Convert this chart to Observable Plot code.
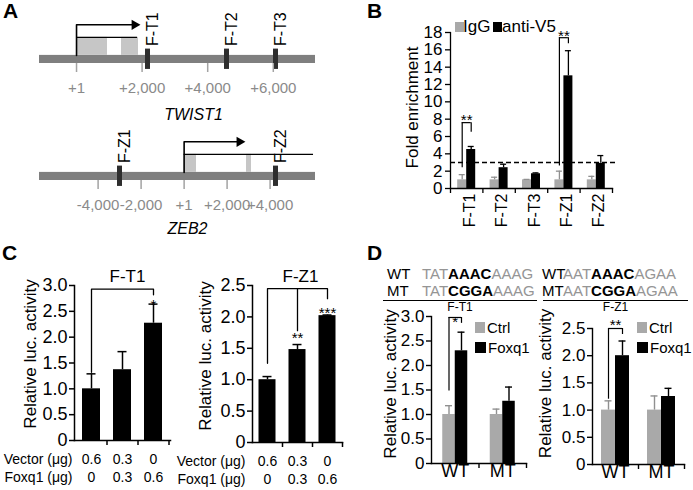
<!DOCTYPE html>
<html>
<head>
<meta charset="utf-8">
<script src="https://cdn.jsdelivr.net/npm/d3@7"></script>
<script src="https://cdn.jsdelivr.net/npm/@observablehq/plot@0.6"></script>
<style>
  html, body { margin: 0; padding: 0; background: #fff; }
  #fig { position: relative; width: 693px; height: 490px; overflow: hidden; background: #fff;
         font-family: "Liberation Sans", Arial, Helvetica, sans-serif; color: #000; }
  #fig .pw { position: absolute; }
  #fig .pw svg { max-width: none; display: block; }
  .t { position: absolute; line-height: 1; white-space: nowrap; }
  .sq { position: absolute; }
</style>
</head>
<body>
<div id="fig"></div>
<script>
// ================= DATA =================
// Panel A: TWIST1 locus (bp relative to TSS)
const twistRegion = [-1128, 7287];
const twistTicks = [1, 2000, 4000, 6000];
const twistTickLabels = ["+1", "+2,000", "+4,000", "+6,000"];
const twistTSS = 1;
const twistArrowHead = 1770;
const twistTranscriptEnd = 1860;
const twistExonStart = [1, 1372];
const twistExonEnd = [945, 1890];
const twistProbes = ["F-T1", "F-T2", "F-T3"];
const twistProbePos = [2165, 4573, 6067];

// Panel A: ZEB2 locus
const zebRegion = [-6726, 6112];
const zebTicks = [-4000, -2000, 1, 2000, 4000];
const zebTickLabels = ["-4,000", "-2,000", "+1", "+2,000", "+4,000"];
const zebTSS = 1;
const zebArrowHead = 2577;
const zebTranscriptEnd = 6020;
const zebExonStart = [1, 2902];
const zebExonEnd = [577, 3135];
const zebProbes = ["F-Z1", "F-Z2"];
const zebProbePos = [-3005, 4251];

// Panel B: ChIP fold enrichment
const bGroups = ["F-T1", "F-T2", "F-T3", "F-Z1", "F-Z2"];
const bIgG = [1, 1, 1, 1, 1];
const bIgGErr = [1.6, 1.3, 1.05, 2.0, 1.4];
const bV5 = [4.5, 2.4, 1.7, 13.0, 2.9];
const bV5Err = [4.85, 2.8, 1.8, 15.9, 3.8];
const bYTicks = [0, 2, 4, 6, 8, 10, 12, 14, 16, 18];
const bThreshold = 3;
const bSeries = ["IgG", "anti-V5"];
const bSig = [
  {g: "F-T1", left: 2.4, right: 6.5, top: 7.6, star: 7.9, s: "**"},
  {g: "F-Z1", left: 2.6, right: 16.7, top: 17.4, star: 17.6, s: "**"}
];

// Panel C: luciferase dose response
const cVector = ["0.6", "0.3", "0"];
const cFoxq1 = ["0", "0.3", "0.6"];
const cRowLabels = ["Vector (μg)", "Foxq1 (μg)"];
const cT1 = [1.0, 1.37, 2.27];
const cT1Err = [1.29, 1.72, 2.64];
const cZ1 = [1.0, 1.48, 2.02];
const cZ1Err = [1.05, 1.56, 2.03];
const cT1YTicks = [0, 0.5, 1, 1.5, 2, 2.5, 3];
const cZ1YTicks = [0, 0.5, 1, 1.5, 2, 2.5];
const cT1Brackets = [[[0, 1.32], [0, 2.93], [2, 2.93], [2, 2.82]]];
const cT1Stars = [{i: 2, y: 2.62, s: "*"}];
const cZ1Brackets = [[[0, 1.26], [0, 2.45], [2, 2.45], [2, 2.29]], [[1, 2.45], [1, 1.78]]];
const cZ1Stars = [{i: 1, y: 1.66, s: "**"}, {i: 2, y: 2.06, s: "***"}];

// Panel D: WT vs mutant site
const dGroups = ["WT", "MT"];
const dSeries = ["Ctrl", "Foxq1"];
const dT1Ctrl = [1.0, 1.0];
const dT1CtrlErr = [1.18, 1.11];
const dT1Fox = [2.3, 1.27];
const dT1FoxErr = [2.68, 1.56];
const dZ1Ctrl = [1.0, 1.0];
const dZ1CtrlErr = [1.17, 1.26];
const dZ1Fox = [2.0, 1.25];
const dZ1FoxErr = [2.27, 1.40];
const dT1YTicks = [0, 0.5, 1, 1.5, 2, 2.5, 3];
const dZ1YTicks = [0, 0.5, 1, 1.5, 2, 2.5];
const dT1Sig = [{g: "WT", left: 1.48, right: 2.86, top: 2.98, star: 2.88, s: "*"}];
const dZ1Sig = [{g: "WT", left: 1.2, right: 2.39, top: 2.5, star: 2.57, s: "**"}];
const seqT1 = {WT: ["TAT", "AAAC", "AAAG"], MT: ["TAT", "CGGA", "AAAG"]};
const seqZ1 = {WT: ["AAT", "AAAC", "AGAA"], MT: ["AAT", "CGGA", "AGAA"]};

const yLabel = "Relative luc. activity";

// ================= STYLE =================
const FONT = '"Liberation Sans", Arial, Helvetica, sans-serif';
const GRAY_BAR = "#a9a9a9";
const GRAY_ERR = "#909090";
const SEQ_GRAY = "#959595";
const fig = document.getElementById("fig");

function baseStyle(size) {
  return {fontFamily: FONT, fontSize: size + "px", background: "transparent", overflow: "visible", color: "#000"};
}
function place(node, left, top) {
  const w = document.createElement("div");
  w.className = "pw";
  w.style.left = left + "px";
  w.style.top = top + "px";
  w.appendChild(node);
  fig.appendChild(w);
}
function addText(html, left, top, size, extra = "") {
  const d = document.createElement("div");
  d.className = "t";
  d.style.cssText = `left:${left}px;top:${top}px;font-size:${size}px;${extra}`;
  d.innerHTML = html;
  fig.appendChild(d);
  return d;
}
function addBox(left, top, w, h, css) {
  const d = document.createElement("div");
  d.className = "sq";
  d.style.cssText = `left:${left}px;top:${top}px;width:${w}px;height:${h}px;${css}`;
  fig.appendChild(d);
}
const fmtTick = d => d === 0 ? "0" : d.toFixed(1);
const CENTER = {textAnchor: "middle", lineAnchor: "middle"};

// ================= PANEL A =================
const UNIT = 18, CHR_H = 0.45, EXON_H = 1, ARROW_Y = 2.15, PROBE_LO = -0.33, PROBE_HI = 0.8;
function geneDiagram(o) {
  const exons = o.exonStart.map((s, i) => ({s, e: o.exonEnd[i]}));
  const probes = o.probes.map((p, i) => ({p, x: o.probePos[i]}));
  const H = o.height, mb = o.marginBottom, mt = H - mb - 3 * UNIT;
  return Plot.plot({
    width: 340, height: H, marginLeft: 39, marginRight: 25, marginTop: mt, marginBottom: mb,
    style: baseStyle(15),
    x: {domain: o.region, label: null},
    y: {domain: [0, 3], label: null, axis: null},
    marks: [
      Plot.rect([o.region], {x1: d => d[0], x2: d => d[1], y1: 0, y2: CHR_H, fill: "#7f7f7f"}),
      Plot.rect(exons, {x1: "s", x2: "e", y1: CHR_H, y2: CHR_H + EXON_H, fill: "#c6c6c6"}),
      Plot.ruleY([CHR_H + EXON_H], {x1: o.tss, x2: o.transcriptEnd, strokeWidth: 1.3}),
      Plot.line([[o.tss, CHR_H], [o.tss, ARROW_Y], [o.arrowHead, ARROW_Y]], {x: d => d[0], y: d => d[1], strokeWidth: 1.6}),
      Plot.dot([o.arrowHead], {x: d => d, y: ARROW_Y, symbol: "triangle", rotate: 90, r: 3.8, fill: "black"}),
      Plot.ruleX(probes, {x: "x", y1: PROBE_LO, y2: PROBE_HI, strokeWidth: 5, stroke: "#2e2e2e"}),
      Plot.text(probes, {x: "x", y: PROBE_HI, text: "p", rotate: -90, textAnchor: "start", lineAnchor: "middle", dx: 5, dy: -3, fontSize: 16}),
      Plot.axisX({ticks: o.ticks, tickFormat: d => o.tickLabels[o.ticks.indexOf(d)], tickSize: 9, tickPadding: 10,
                  stroke: "#a3a3a3", strokeWidth: 1.5, fill: "#8a8a8a", fontSize: 15, label: null}),
      Plot.text([o.name], {frameAnchor: "bottom", ...CENTER, dx: o.nameDx, dy: o.nameDy, fontStyle: "italic", fontSize: 16})
    ]
  });
}
place(geneDiagram({
  region: twistRegion, ticks: twistTicks, tickLabels: twistTickLabels, tss: twistTSS, arrowHead: twistArrowHead,
  transcriptEnd: twistTranscriptEnd, exonStart: twistExonStart, exonEnd: twistExonEnd,
  probes: twistProbes, probePos: twistProbePos, name: "TWIST1", height: 125, marginBottom: 62, nameDx: 16, nameDy: 51
}), 0, 0);
place(geneDiagram({
  region: zebRegion, ticks: zebTicks, tickLabels: zebTickLabels, tss: zebTSS, arrowHead: zebArrowHead,
  transcriptEnd: zebTranscriptEnd, exonStart: zebExonStart, exonEnd: zebExonEnd,
  probes: zebProbes, probePos: zebProbePos, name: "ZEB2", height: 115, marginBottom: 60, nameDx: 10, nameDy: 48
}), 0, 125);

// ================= PANEL B =================
(function () {
  const W = 300, ml = 110, mr = 28;
  const step = (W - ml - mr) / bGroups.length;
  const bw = 9;
  const data = bGroups.map((g, i) => ({g, igg: bIgG[i], iggErr: bIgGErr[i], v5: bV5[i], v5Err: bV5Err[i]}));
  const plot = Plot.plot({
    width: W, height: 240, marginLeft: ml, marginRight: mr, marginTop: 32, marginBottom: 52,
    style: baseStyle(17),
    x: {domain: bGroups, padding: 0, round: false, label: null},
    y: {domain: [0, 18], label: null},
    marks: [
      Plot.barY(data, {x: "g", y: "igg", fill: GRAY_BAR, insetLeft: step / 2 - bw, insetRight: step / 2}),
      Plot.barY(data, {x: "g", y: "v5", fill: "black", insetLeft: step / 2, insetRight: step / 2 - bw}),
      Plot.ruleX(data, {x: "g", y1: "igg", y2: "iggErr", dx: -bw / 2, stroke: GRAY_ERR, strokeWidth: 1.3}),
      Plot.tickY(data, {x: "g", y: "iggErr", insetLeft: step / 2 - bw / 2 - 3, insetRight: step / 2 + bw / 2 - 3, stroke: GRAY_ERR, strokeWidth: 1.3}),
      Plot.ruleX(data, {x: "g", y1: "v5", y2: "v5Err", dx: bw / 2, strokeWidth: 1.3}),
      Plot.tickY(data, {x: "g", y: "v5Err", insetLeft: step / 2 + bw / 2 - 3, insetRight: step / 2 - bw / 2 - 3, strokeWidth: 1.3}),
      Plot.ruleY([bThreshold], {strokeDasharray: "5,3", strokeWidth: 1.5, insetRight: -6}),
      Plot.ruleX(bSig, {x: "g", y1: "left", y2: "top", dx: -bw / 2, strokeWidth: 1.2}),
      Plot.ruleX(bSig, {x: "g", y1: "right", y2: "top", dx: bw / 2, strokeWidth: 1.2}),
      Plot.ruleY(bSig, {x1: "g", x2: "g", y: "top", insetLeft: step / 2 - bw / 2, insetRight: step / 2 - bw / 2, strokeWidth: 1.2}),
      Plot.text(bSig, {x: "g", y: "star", text: "s", fontSize: 15}),
      Plot.frame({anchor: "left", strokeWidth: 1.3}),
      Plot.frame({anchor: "bottom", strokeWidth: 1.3}),
      Plot.ruleX(bGroups, {x: d => d, y1: 0, y2: 0, insetBottom: -5, dx: -step / 2, strokeWidth: 1.3}),
      Plot.ruleX(bGroups.slice(-1), {x: d => d, y1: 0, y2: 0, insetBottom: -5, dx: step / 2, strokeWidth: 1.3}),
      Plot.axisY({ticks: bYTicks, tickSize: 5, tickPadding: 3, fontSize: 17, strokeWidth: 1.3, label: null}),
      Plot.axisX({tickSize: 0, tickPadding: 5, tickRotate: -90, dx: 3, fontSize: 16, label: null}),
      Plot.text(["Fold enrichment"], {frameAnchor: "left", ...CENTER, rotate: -90, dx: -38, dy: -3, fontSize: 17})
    ]
  });
  place(plot, 340, 0);
})();

// ================= PANEL C =================
const cConds = cVector.map((v, i) => v + "\n" + cFoxq1[i]);
function cPlot(o) {
  const n = cConds.length;
  const R = o.W - o.ml - o.mr;
  const pi = 1 - o.barW / o.step, po = (R / o.step - n + pi) / 2;
  const data = o.vals.map((v, i) => ({c: cConds[i], v, e: o.errs[i]}));
  return Plot.plot({
    width: o.W, height: 250, marginLeft: o.ml, marginRight: o.mr, marginTop: o.mt, marginBottom: o.mb,
    style: baseStyle(17),
    x: {domain: cConds, paddingInner: pi, paddingOuter: po, round: false, label: null},
    y: {domain: [0, o.yMax], label: null},
    marks: [
      Plot.barY(data, {x: "c", y: "v", fill: "black"}),
      Plot.ruleX(data, {x: "c", y1: "v", y2: "e", strokeWidth: 1.5}),
      Plot.tickY(data, {x: "c", y: "e", insetLeft: o.barW / 2 - 4.5, insetRight: o.barW / 2 - 4.5, strokeWidth: 1.5}),
      ...o.brackets.map(b => Plot.line(b, {x: d => cConds[d[0]], y: d => d[1], strokeWidth: 1.3})),
      Plot.text(o.stars, {x: d => cConds[d.i], y: "y", text: "s", fontSize: 15}),
      Plot.frame({anchor: "left", strokeWidth: 1.5}),
      Plot.frame({anchor: "bottom", strokeWidth: 1.5}),
      Plot.ruleX(cConds, {x: d => d, y1: 0, y2: 0, insetBottom: -5, dx: o.step / 2, strokeWidth: 1.5}),
      Plot.axisY({ticks: o.yTicks, tickFormat: fmtTick, tickSize: 5, tickPadding: 2, fontSize: 18, strokeWidth: 1.5, label: null}),
      Plot.axisX({tickSize: 0, tickPadding: 11, fontSize: 14, lineHeight: 1.29, label: null}),
      Plot.text([cRowLabels.join("\n")], {frameAnchor: "bottom-left", textAnchor: "end", lineAnchor: "top", dx: o.rowDx, dy: 11, fontSize: 14, lineHeight: 1.29}),
      Plot.text([o.title], {frameAnchor: "top", ...CENTER, dx: o.titleDx, dy: -9, fontSize: 17}),
      Plot.text([yLabel], {frameAnchor: "left", ...CENTER, rotate: -90, dx: o.ylabDx, dy: o.ylabDy, fontSize: 17})
    ]
  });
}
place(cPlot({vals: cT1, errs: cT1Err, yMax: 3, yTicks: cT1YTicks, W: 175, ml: 74, mr: 5, mt: 45, mb: 50,
  barW: 18, step: 31, brackets: cT1Brackets, stars: cT1Stars, title: "F-T1", titleDx: 5, rowDx: -2, ylabDx: -44, ylabDy: -9}), 0, 240);
place(cPlot({vals: cZ1, errs: cZ1Err, yMax: 2.5, yTicks: cZ1YTicks, W: 170, ml: 77, mr: 3, mt: 45, mb: 48,
  barW: 17, step: 30, brackets: cZ1Brackets, stars: cZ1Stars, title: "F-Z1", titleDx: 3, rowDx: -7, ylabDx: -47, ylabDy: -8}), 175, 240);

// ================= PANEL D =================
function dPlot(o) {
  const step = (o.W - o.ml - o.mr) / dGroups.length;
  const h = o.barW;
  const data = dGroups.map((g, i) => ({g, c: o.ctrl[i], ce: o.ctrlErr[i], f: o.fox[i], fe: o.foxErr[i]}));
  return Plot.plot({
    width: o.W, height: 250, marginLeft: o.ml, marginRight: o.mr, marginTop: o.mt, marginBottom: o.mb,
    style: baseStyle(17),
    x: {domain: dGroups, padding: 0, round: false, label: null},
    y: {domain: [0, o.yMax], label: null},
    marks: [
      Plot.barY(data, {x: "g", y: "c", fill: GRAY_BAR, insetLeft: step / 2 - h, insetRight: step / 2}),
      Plot.barY(data, {x: "g", y: "f", fill: "black", insetLeft: step / 2, insetRight: step / 2 - h}),
      Plot.ruleX(data, {x: "g", y1: "c", y2: "ce", dx: -h / 2, stroke: GRAY_ERR, strokeWidth: 1.4}),
      Plot.tickY(data, {x: "g", y: "ce", insetLeft: step / 2 - h / 2 - 3.5, insetRight: step / 2 + h / 2 - 3.5, stroke: GRAY_ERR, strokeWidth: 1.4}),
      Plot.ruleX(data, {x: "g", y1: "f", y2: "fe", dx: h / 2, strokeWidth: 1.4}),
      Plot.tickY(data, {x: "g", y: "fe", insetLeft: step / 2 + h / 2 - 3.5, insetRight: step / 2 - h / 2 - 3.5, strokeWidth: 1.4}),
      Plot.ruleX(o.sig, {x: "g", y1: "left", y2: "top", dx: -h / 2, strokeWidth: 1.2}),
      Plot.ruleX(o.sig, {x: "g", y1: "right", y2: "top", dx: h / 2, strokeWidth: 1.2}),
      Plot.ruleY(o.sig, {x1: "g", x2: "g", y: "top", insetLeft: step / 2 - h / 2, insetRight: step / 2 - h / 2, strokeWidth: 1.2}),
      Plot.text(o.sig, {x: "g", y: "star", text: "s", fontSize: 15}),
      Plot.frame({anchor: "left", strokeWidth: 1.4}),
      Plot.frame({anchor: "bottom", strokeWidth: 1.4}),
      Plot.ruleX(dGroups, {x: d => d, y1: 0, y2: 0, insetBottom: -5, dx: step / 2, strokeWidth: 1.4}),
      Plot.axisY({ticks: o.yTicks, tickFormat: fmtTick, tickSize: 5, tickPadding: 2, fontSize: 17, strokeWidth: 1.4, label: null}),
      Plot.axisX({tickSize: 0, tickPadding: 1, fontSize: 18, label: null}),
      Plot.text([yLabel], {frameAnchor: "left", ...CENTER, rotate: -90, dx: o.ylabDx, dy: o.ylabDy, fontSize: 17})
    ]
  });
}
place(dPlot({ctrl: dT1Ctrl, ctrlErr: dT1CtrlErr, fox: dT1Fox, foxErr: dT1FoxErr, yMax: 3, yTicks: dT1YTicks,
  W: 195, ml: 86, mr: 14, mt: 76, mb: 27, barW: 12.5, sig: dT1Sig, ylabDx: -41, ylabDy: -6}), 345, 240);
place(dPlot({ctrl: dZ1Ctrl, ctrlErr: dZ1CtrlErr, fox: dZ1Fox, foxErr: dZ1FoxErr, yMax: 2.5, yTicks: dZ1YTicks,
  W: 153, ml: 52, mr: 9, mt: 88, mb: 26, barW: 14, sig: dZ1Sig, ylabDx: -47, ylabDy: -13}), 540, 240);

// ================= HTML annotations =================
addText("A", 3, 0, 21, "font-weight:bold");
addText("B", 367, 0, 21, "font-weight:bold");
addText("C", 2, 242, 21, "font-weight:bold");
addText("D", 367, 242, 21, "font-weight:bold");

// legend B
addBox(455, 22, 8.5, 10, `background:${GRAY_BAR}`);
addText(bSeries[0], 463, 17.6, 17);
addBox(493, 22, 9, 10, "background:#000");
addText(bSeries[1], 502, 17.6, 17);

// legends D
[[475, 487], [637, 649]].forEach(([sx, tx]) => {
  addBox(sx, 322, 10, 11, `background:${GRAY_BAR}`);
  addText(dSeries[0], tx, 319.7, 15);
  addBox(sx, 342, 11, 11, "background:#000");
  addText(dSeries[1], tx + 1, 340, 15);
});

// sequences D
function seqRow(label, parts, left, labelW, top) {
  const html = `<span style="display:inline-block;width:${labelW}px">${label}</span>` +
    `<span style="color:${SEQ_GRAY}">${parts[0]}</span><b>${parts[1]}</b><span style="color:${SEQ_GRAY}">${parts[2]}</span>`;
  addText(html, left, top, 15);
}
function seqBlock(seq, name, left, labelW, lineL, lineR) {
  seqRow("WT", seq.WT, left, labelW, 265.7);
  seqRow("MT", seq.MT, left, labelW, 282.7);
  addBox(lineL, 299.5, lineR - lineL, 0, "border-top:1.3px solid #000");
  addText(name, lineL, 301, 12, `width:${lineR - lineL}px;text-align:center`);
}
seqBlock(seqT1, "F-T1", 387, 35, 383, 537);
seqBlock(seqZ1, "F-Z1", 542, 21, 543, 688);
</script>
</body>
</html>
